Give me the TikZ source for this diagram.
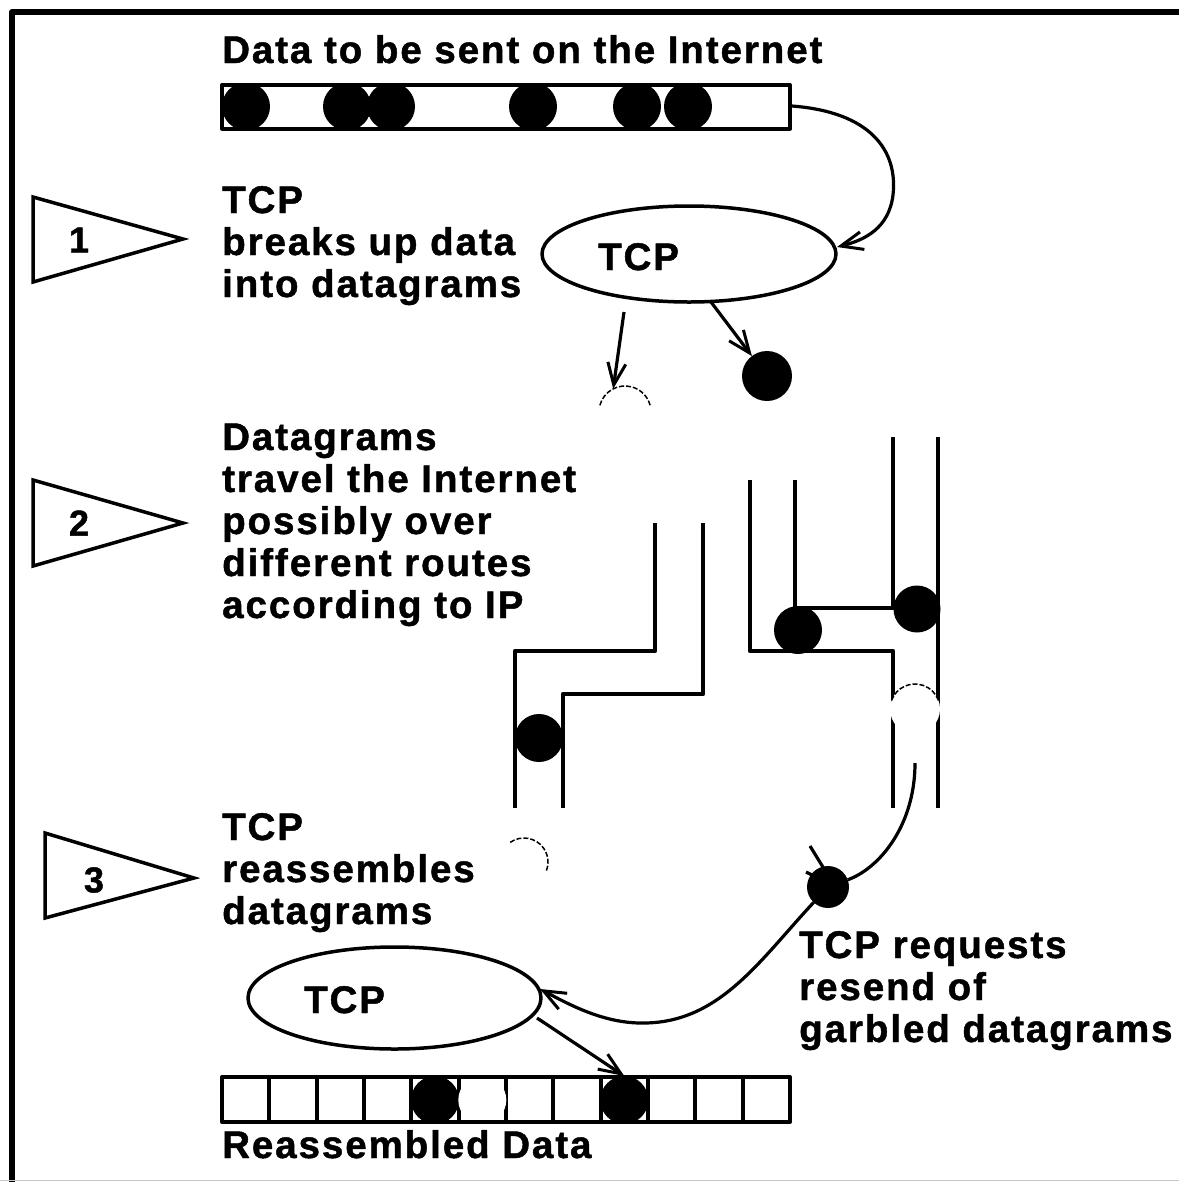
\documentclass[tikz,border=0pt]{standalone}
\usepackage{fontspec}
\newfontfamily\labfont{Liberation Sans}[LetterSpace=5,FakeBold=1.2]
\usetikzlibrary{arrows.meta,shapes.geometric}
\begin{document}
\begin{tikzpicture}[x=1bp,y=-1bp,line join=round,
  lbl/.style={font=\labfont\bfseries\fontsize{38.5bp}{42bp}\selectfont, inner sep=0pt, anchor=base west, align=left},
  numlbl/.style={font=\labfont\bfseries\fontsize{36bp}{40bp}\selectfont, inner sep=0pt},
  conn/.style={line width=3.2bp, -{Straight Barb[length=22bp,width=18bp,line width=3bp]}},
  wire/.style={line width=3.2bp},
  route/.style={line width=4.2bp},
  blackdot/.style={circle, fill=black, inner sep=0pt, outer sep=0pt, minimum size=#1},
  whitedot/.style={circle, fill=white, inner sep=0pt, outer sep=0pt, minimum size=#1},
  ghostc/.style={circle, inner sep=0pt, outer sep=0pt, minimum size=#1},
  thinarc/.style={line width=1.5bp, dash pattern=on 5bp off 2bp},
  tcpell/.style={ellipse, draw, line width=3.5bp, inner sep=0pt},
  flagline/.style={line width=3.5bp, line join=miter},
  barline/.style={line width=4bp}]
\useasboundingbox (0,0) rectangle (1179,1182);
% frame
\draw[line width=6bp] (12,1182) -- (12,12) -- (1179,12);
\draw[gray!45, line width=1.5bp] (0,1180.5) -- (1179,1180.5);
% title and top bar
\node[lbl] (title) at (222,63) {Data to be sent on the Internet};
\begin{scope}
\clip (224,87) rectangle (788,126.5);
\foreach \cx [count=\i] in {246,347,391,533,637,688}
  \node[blackdot=48bp] (td\i) at (\cx,106.5) {};
\end{scope}
\draw[barline] (222,85) rectangle (790,128.5);
\coordinate (barR) at (792,106);
% TCP ellipse 1
\node[tcpell, minimum width=294bp, minimum height=96bp] (tcp1) at (689,254) {};
\node[lbl] (tcp1t) at (598,270) {TCP};
\coordinate (e1in) at (837,247);
\draw[conn] (barR) .. controls (870,112) and (898,150) .. (893,195) .. controls (889,228) and (865,240) .. (e1in);
% step 1
\draw[flagline] (33,197) -- (183,239) -- (33,282) -- cycle;
\node[numlbl] (n1) at (79,240) {1};
\node[lbl] (txt1) at (222,297) {TCP\\breaks up data\\into datagrams};
% datagrams leaving TCP
\node[ghostc=52bp] (g1) at (625,412) {};
\draw[thinarc] (g1.165) arc[start angle=195, end angle=345, radius=26];
\coordinate (a1s) at (624,312);
\draw[conn] (a1s) -- (g1.117);
\node[blackdot=50bp] (d1) at (767,376) {};
\coordinate (a2s) at (711,302);
\draw[conn] (a2s) -- (d1);
% step 2
\draw[flagline] (33,480) -- (183,523) -- (33,566) -- cycle;
\node[numlbl] (n2) at (79,523) {2};
\node[lbl] (txt2) at (222,618) {Datagrams\\travel the Internet\\possibly over\\different routes\\according to IP};
% routes
\draw[route] (655,523) -- (655,651) -- (515,651) -- (515,808);
\draw[route] (703,523) -- (703,694) -- (563,694) -- (563,808);
\draw[route] (750,480) -- (750,651) -- (893,651) -- (893,808);
\draw[route] (795,480) -- (795,608) -- (893,608) -- (893,437);
\draw[route] (938,437) -- (938,808);
\node[blackdot=48bp] (d2) at (539,738) {};
\node[blackdot=48bp] (d3) at (798,630) {};
\node[blackdot=47bp] (d4) at (917,609) {};
\node[whitedot=50bp] (g2) at (915,709) {};
\draw[thinarc] (g2.160) arc[start angle=200, end angle=340, radius=25];
% lower garbled datagram
\node[ghostc=48bp] (g3) at (524,862) {};
\draw[thinarc] (g3.125) arc[start angle=235, end angle=385, radius=24];
% step 3
\draw[flagline] (45,833) -- (194,878) -- (45,918) -- cycle;
\node[numlbl] (n3) at (94,880) {3};
\node[lbl] (txt3) at (222,924) {TCP\\reassembles\\datagrams};
% resend request
\coordinate (rt) at (915,763);
\node[blackdot=42bp] (blob) at (828,887) {};
\draw[wire] (810,846) -- (826,872);
\draw[wire] (806,872) -- (818,878);
\draw[wire] (rt) .. controls (915,825) and (880,868) .. (blob);
\coordinate (e2in) at (540,989);
\draw[conn] (blob) .. controls (760,960) and (720,1022) .. (645,1023) .. controls (605,1024) and (570,1005) .. (e2in);
\node[lbl] (txt4) at (799,1042) {TCP requests\\resend of\\garbled datagrams};
% TCP ellipse 2
\node[tcpell, minimum width=293bp, minimum height=102bp] (tcp2) at (394.5,998) {};
\node[lbl] (tcp2t) at (304,1013) {TCP};
% bottom bar
\foreach \k in {1,...,11}
  \draw[barline] ({222+\k*47.333},1077) -- ({222+\k*47.333},1122);
\begin{scope}
\clip (224,1079) rectangle (788,1120);
\node[blackdot=48bp] (bd1) at (435,1100) {};
\node[whitedot=48bp] (bd2) at (482.3,1100) {};
\node[blackdot=48bp] (bd3) at (624.3,1100) {};
\end{scope}
\draw[barline] (222,1077) rectangle (790,1122);
\coordinate (e2out) at (537,1018);
\draw[conn] (e2out) -- (bd3.north);
\node[lbl] (txt5) at (222,1158) {Reassembled Data};
\end{tikzpicture}
\end{document}
